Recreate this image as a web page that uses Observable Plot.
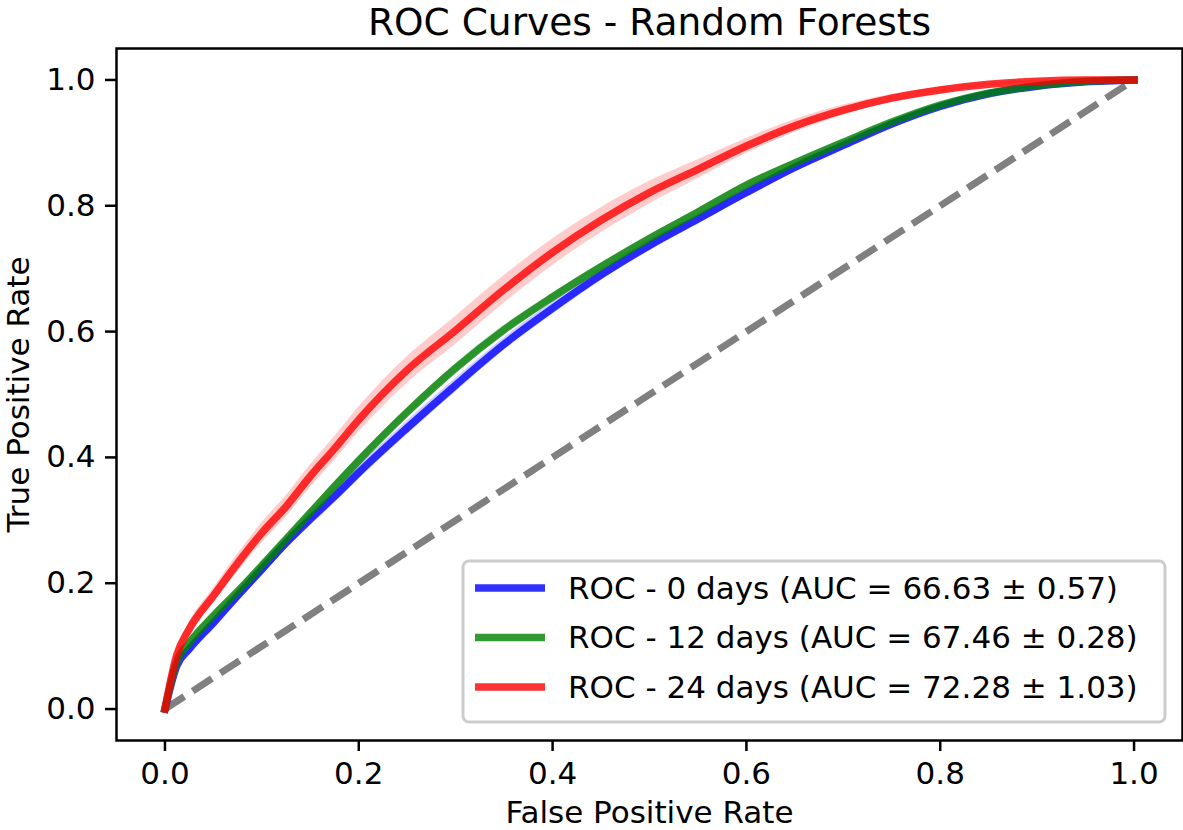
<!DOCTYPE html>
<html>
<head>
<meta charset="utf-8">
<script src="https://cdn.jsdelivr.net/npm/d3@7"></script>
<script src="https://cdn.jsdelivr.net/npm/@observablehq/plot@0.6"></script>
<style>
  html, body { margin: 0; padding: 0; background: white; }
  #chart { width: 1183px; height: 830px; }
</style>
</head>
<body>
<div id="chart"></div>
<script>
// ---- data ----
const title = "ROC Curves - Random Forests";
const xLabel = "False Positive Rate";
const yLabel = "True Positive Rate";
const xTicks = [0.0, 0.2, 0.4, 0.6, 0.8, 1.0];
const yTicks = [0.0, 0.2, 0.4, 0.6, 0.8, 1.0];

const seriesNames = ["ROC - 0 days (AUC = 66.63 \u00B1 0.57)",
                     "ROC - 12 days (AUC = 67.46 \u00B1 0.28)",
                     "ROC - 24 days (AUC = 72.28 \u00B1 1.03)"];
const seriesColors = ["blue", "green", "red"];

const fpr = [0, 0.012, 0.025, 0.05, 0.075, 0.1, 0.125, 0.15, 0.175, 0.2,
             0.25, 0.3, 0.35, 0.4, 0.45, 0.5, 0.55, 0.6, 0.65, 0.7,
             0.75, 0.8, 0.85, 0.9, 0.95, 1.0];

const tpr0  = [0, 0.068, 0.095, 0.137, 0.18, 0.222, 0.264, 0.302, 0.338, 0.376,
               0.447, 0.515, 0.58, 0.637, 0.69, 0.737, 0.779, 0.821, 0.861, 0.896,
               0.93, 0.958, 0.978, 0.99, 0.997, 1.0];
const sd0   = [0, 0.005, 0.007, 0.008, 0.009, 0.01, 0.01, 0.011, 0.011, 0.011,
               0.011, 0.011, 0.01, 0.01, 0.009, 0.009, 0.008, 0.008, 0.007, 0.006,
               0.005, 0.004, 0.003, 0.002, 0.001, 0];

const tpr12 = [0, 0.075, 0.105, 0.148, 0.187, 0.228, 0.27, 0.312, 0.354, 0.395,
               0.472, 0.542, 0.603, 0.655, 0.703, 0.748, 0.79, 0.833, 0.868, 0.901,
               0.933, 0.96, 0.979, 0.991, 0.998, 1.0];
const sd12  = [0, 0.004, 0.005, 0.006, 0.006, 0.007, 0.007, 0.007, 0.007, 0.007,
               0.007, 0.007, 0.007, 0.006, 0.006, 0.006, 0.005, 0.005, 0.004, 0.004,
               0.003, 0.003, 0.002, 0.001, 0.001, 0];

const tpr24 = [0, 0.085, 0.127, 0.18, 0.232, 0.28, 0.322, 0.37, 0.414, 0.46,
               0.539, 0.602, 0.667, 0.726, 0.777, 0.821, 0.858, 0.895, 0.927, 0.952,
               0.971, 0.984, 0.993, 0.998, 1.0, 1.0];
const sd24  = [0, 0.007, 0.01, 0.012, 0.014, 0.016, 0.017, 0.018, 0.019, 0.02,
               0.021, 0.022, 0.022, 0.021, 0.02, 0.018, 0.015, 0.012, 0.01, 0.008,
               0.006, 0.005, 0.003, 0.002, 0.001, 0];

const chanceX = [0, 1];
const chanceY = [0, 1];

// ---- build tables ----
const tprs = [tpr0, tpr12, tpr24];
const sds = [sd0, sd12, sd24];
const series = tprs.map((t, k) => fpr.map((x, i) => ({
  fpr: x,
  tpr: t[i],
  lo: Math.max(0, t[i] - sds[k][i]),
  hi: Math.min(1, t[i] + sds[k][i])
})));
const chance = chanceX.map((x, i) => ({x, y: chanceY[i]}));

const marks = [
  Plot.line(chance, {x: "x", y: "y", stroke: "#808080", strokeWidth: 7,
                     strokeDasharray: "23,10", strokeLinecap: "butt"})
];
series.forEach((rows, k) => {
  marks.push(Plot.areaY(rows, {x: "fpr", y1: "lo", y2: "hi", curve: "monotone-x",
                               fill: seriesColors[k], fillOpacity: 0.2}));
  marks.push(Plot.line(rows, {x: "fpr", y: "tpr", stroke: seriesColors[k], curve: "monotone-x",
                              strokeOpacity: 0.8, strokeWidth: 7.5,
                              strokeLinejoin: "round", strokeLinecap: "square"}));
});
marks.push(
  Plot.frame({stroke: "black", strokeWidth: 2.5}),
  Plot.axisX({ticks: xTicks, tickSize: 11, tickPadding: 10, tickFormat: d3.format(".1f"),
              label: null, strokeWidth: 2.5}),
  Plot.axisY({ticks: yTicks, tickSize: 11, tickPadding: 10, tickFormat: d3.format(".1f"),
              label: null, strokeWidth: 2.5}),
  Plot.text([title], {frameAnchor: "top", lineAnchor: "middle", dy: -26, fontSize: 37.5}),
  Plot.text([xLabel], {frameAnchor: "bottom", lineAnchor: "middle", dy: 73}),
  Plot.text([yLabel], {frameAnchor: "left", lineAnchor: "middle", textAnchor: "middle",
                       dx: -97, rotate: -90})
);

const svg = Plot.plot({
  width: 1183,
  height: 830,
  marginLeft: 116,
  marginRight: 1,
  marginTop: 48,
  marginBottom: 90,
  style: {fontFamily: "DejaVu Sans", fontSize: "31px", background: "white", color: "black"},
  x: {domain: [-0.05, 1.05]},
  y: {domain: [-0.05, 1.05]},
  marks
});

// ---- legend (lower right, matplotlib style) ----
const lg = d3.select(svg).append("g")
  .attr("font-family", "DejaVu Sans").attr("font-size", 31).attr("text-anchor", "start");
lg.append("rect")
  .attr("x", 463).attr("y", 561).attr("width", 702).attr("height", 161)
  .attr("rx", 6).attr("ry", 6)
  .attr("fill", "white").attr("fill-opacity", 0.8)
  .attr("stroke", "#cccccc").attr("stroke-width", 3);
seriesNames.forEach((name, i) => {
  const cy = 588 + i * 49.5;
  lg.append("line")
    .attr("x1", 475).attr("x2", 545).attr("y1", cy).attr("y2", cy)
    .attr("stroke", seriesColors[i]).attr("stroke-opacity", 0.8)
    .attr("stroke-width", 7.5);
  lg.append("text")
    .attr("x", 568).attr("y", cy).attr("dy", "0.35em")
    .attr("text-anchor", "start")
    .attr("fill", "black")
    .text(name);
});

document.getElementById("chart").appendChild(svg);
</script>
</body>
</html>
